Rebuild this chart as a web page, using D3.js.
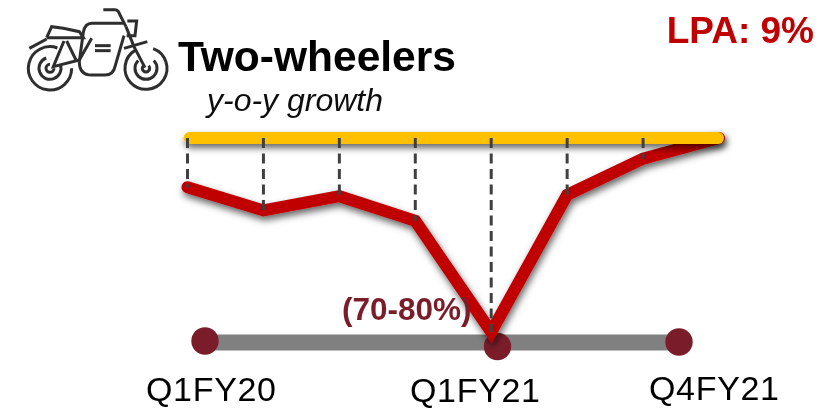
<!DOCTYPE html>
<html><head><meta charset="utf-8">
<script src="https://cdn.jsdelivr.net/npm/d3@7"></script>
<style>html,body{margin:0;padding:0;background:#fff}svg{display:block}text{font-family:"Liberation Sans",Arial,sans-serif}</style>
</head><body><svg id="c" width="824" height="409"></svg>
<script>
const quarters=["Q1FY20","Q2FY20","Q3FY20","Q4FY20","Q1FY21","Q2FY21","Q3FY21","Q4FY21"];
const growth=[-19,-28,-22.5,-32,-75,-22,-8,0];
const baseline=[0,0,0,0,0,0,0,0];
const milestones=["Q1FY20","Q1FY21","Q4FY21"];
const troughLabel="(70-80%)";
const title="Two-wheelers", subtitle="y-o-y growth", lpa="LPA: 9%";

const svg=d3.select("#c");
const defs=svg.append("defs");
const sh=defs.append("filter").attr("id","sh").attr("filterUnits","userSpaceOnUse").attr("x",150).attr("y",100).attr("width",620).attr("height",280);
sh.append("feDropShadow").attr("dx",1.5).attr("dy",4).attr("stdDeviation",3.5).attr("flood-color","#000").attr("flood-opacity",.6);
const soft=defs.append("filter").attr("id","soft").attr("filterUnits","userSpaceOnUse").attr("x",0).attr("y",0).attr("width",824).attr("height",409);
soft.append("feGaussianBlur").attr("stdDeviation",.55);
const root=svg.append("g").attr("filter","url(#soft)");

const x=d3.scalePoint().domain(quarters).range([187.5,719]);
const y=d3.scaleLinear().domain([0,-75]).range([138,332]);
const tx=d3.scaleLinear().domain([0,4,7]).range([205,497.5,679]);
const line=d3.line().x((d,i)=>x(quarters[i])).y(d=>y(d));
const barLine=d3.line().x((d,i)=>x(quarters[i])+(i===0?2:i===quarters.length-1?-1:0)).y(d=>y(d));

// icon
const icon=root.append("g").attr("transform","translate(20,5) scale(.3333)").attr("fill","none").attr("stroke","#2e2e2e").attr("stroke-width",9);
const ring=(cx,cy,r,a0,a1)=>{const p=d3.path();p.arc(cx,cy,r,a0*Math.PI/180,a1*Math.PI/180);return p.toString();};
[
 "M250,14 H285 Q295,14 300,30 L318,65",
 "M318,65 L342,125 L375,188",
 "M322,48 H350 L345,92 H320",
 "M310,55 H215 Q195,55 190,82 L178,170 Q178,210 215,210 H255 Q280,210 285,185 L312,92",
 "M80,98 L95,65 L130,70 L178,80 L190,98 H80",
 "M28,130 L80,102",
 "M215,100 L178,165",
 "M132,108 L100,185 L178,165",
 "M140,108 L168,165",
 "M225,122 H272","M225,137 H272",
 "M312,130 L382,110",
 ring(90,190,65,0,290),
 ring(90,190,33,-20,250),
 ring(90,190,12,0,270),
 ring(378,190,63,-70,240),
 ring(378,190,33,-45,225),
 ring(378,190,11,-45,225)
].forEach(d=>icon.append("path").attr("d",d));

// timeline
const tl=root.append("g");
tl.append("line").attr("x1",tx(0)).attr("x2",tx(7)).attr("y1",342.5).attr("y2",342.5).attr("stroke","#808080").attr("stroke-width",16);
const tIdx=milestones.map(m=>quarters.indexOf(m));
const dotY=[341,346.5,342], labX=[211,475,714], labY=[401,401.7,400];
tl.selectAll("circle").data(tIdx).join("circle").attr("cx",d=>tx(d)).attr("cy",(d,i)=>dotY[i]).attr("r",13.7).attr("fill","#7A1F2B");
tl.selectAll("text").data(milestones).join("text").attr("x",(d,i)=>labX[i]).attr("y",(d,i)=>labY[i]).attr("text-anchor","middle").attr("font-size",34).attr("fill","#000").attr("textLength",130).text(d=>d);

// series
root.append("path").datum(growth).attr("d",line).attr("fill","none").attr("stroke","#C00000").attr("stroke-width",12).attr("stroke-linecap","round").attr("stroke-linejoin","miter").attr("filter","url(#sh)");
root.append("path").datum(baseline).attr("d",barLine).attr("fill","none").attr("stroke","#FFC000").attr("stroke-width",12).attr("stroke-linecap","round").attr("filter","url(#sh)");
root.append("g").selectAll("line").data(growth.slice(0,7)).join("line")
  .attr("x1",(d,i)=>x(quarters[i])).attr("x2",(d,i)=>x(quarters[i])).attr("y1",y(0)).attr("y2",d=>y(d)).attr("stroke","#404040").attr("stroke-width",3).attr("stroke-dasharray","10,5.5");

// text
root.append("text").attr("x",178).attr("y",71).attr("font-size",42.5).attr("font-weight","bold").attr("fill","#000").text(title);
root.append("text").attr("x",207).attr("y",111).attr("font-size",32).attr("font-style","italic").attr("fill","#111").text(subtitle);
root.append("text").attr("x",814).attr("y",43).attr("text-anchor","end").attr("font-size",37).attr("font-weight","bold").attr("fill","#C00000").text(lpa);
root.append("text").attr("x",342).attr("y",320).attr("font-size",31.5).attr("font-weight","bold").attr("fill","#7A1F2B").text(troughLabel);
</script></body></html>
